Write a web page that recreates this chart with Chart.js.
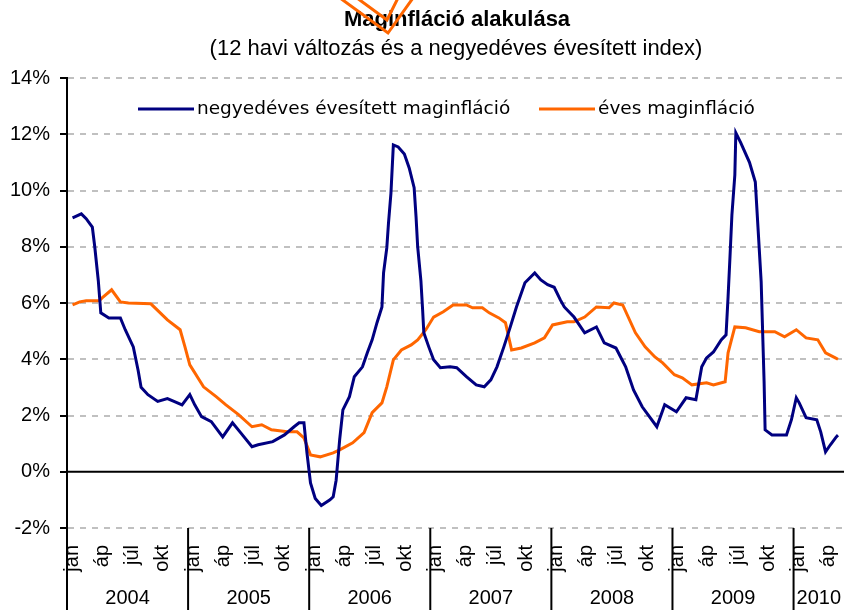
<!DOCTYPE html>
<html>
<head>
<meta charset="utf-8">
<script src="https://cdn.jsdelivr.net/npm/chart.js@4"></script>
<style>
  html, body { margin: 0; padding: 0; overflow: hidden; background: #fff; }
</style>
</head>
<body>
<canvas id="coreChart" width="870" height="610"></canvas>
<script>
// tick labels
const monthLabels = ['jan', 'áp', 'júl', 'okt'];
const yearLabels = ['2004', '2005', '2006', '2007', '2008', '2009', '2010'];
const totalMonths = 77; // jan 2004 .. may 2010

// negyedéves évesített maginfláció (x = months since jan 2004, y = %)
const quarterlyX = [0.55, 1.42, 1.9, 2.51, 2.75, 3.1, 3.35, 4.15, 5.29, 5.77, 6.57, 7.05, 7.34, 8.02, 8.99,
  9.95, 10.6, 11.4, 12.17, 12.66, 13.33, 14.3, 15.43, 16.4, 17.2, 18.33, 18.94, 20.39, 21.55, 22.5,
  23.0, 23.48, 23.77, 24.13, 24.6, 25.2, 26.06, 26.38, 26.67, 27.02, 27.34, 27.99, 28.47, 29.28, 29.76,
  30.24, 30.72, 31.21, 31.37, 31.69, 31.86, 32.1, 32.34, 32.82, 33.43, 33.91, 34.4, 34.59, 34.75, 35.07,
  35.24, 35.36, 35.85, 36.33, 37.0, 37.97, 38.62, 39.58, 40.55, 41.35, 42.0, 42.61, 43.29, 43.93, 44.54,
  45.38, 46.35, 46.96, 47.63, 48.28, 48.89, 49.28, 50.24, 51.3, 52.46, 53.24, 54.4, 55.36, 56.14, 57.0,
  58.45, 59.23, 60.39, 61.35, 62.32, 62.9, 63.38, 64.06, 64.83, 65.31, 65.51, 65.7, 65.89, 66.18, 66.28,
  66.76, 67.63, 68.21, 68.5, 68.79, 69.08, 69.18, 69.86, 71.3, 71.79, 72.27, 72.56, 73.24, 74.3, 74.69,
  75.17, 75.65, 76.23, 76.4];
const quarterlyY = [9.03, 9.17, 9.0, 8.7, 8.0, 6.8, 5.65, 5.47, 5.47, 5.05, 4.44, 3.6, 3.0, 2.74, 2.5,
  2.6, 2.5, 2.38, 2.74, 2.38, 1.96, 1.78, 1.24, 1.74, 1.39, 0.89, 0.96, 1.07, 1.31, 1.6,
  1.74, 1.74, 0.7, -0.4, -0.95, -1.2, -1.0, -0.89, -0.3, 1.14, 2.2, 2.67, 3.38, 3.73, 4.23,
  4.69, 5.3, 5.86, 7.07, 7.96, 8.85, 9.9, 11.62, 11.55, 11.3, 10.8, 10.1, 9.06, 8.0, 6.8,
  5.76, 4.94, 4.44, 3.98, 3.7, 3.73, 3.7, 3.38, 3.09, 3.02, 3.27, 3.73, 4.44, 5.15, 5.86,
  6.72, 7.07, 6.82, 6.65, 6.56, 6.11, 5.86, 5.5, 4.94, 5.15, 4.58, 4.4, 3.73, 2.91, 2.31,
  1.6, 2.38, 2.13, 2.63, 2.56, 3.73, 4.05, 4.26, 4.69, 4.87, 6.22, 7.64, 9.13, 10.55, 12.05,
  11.7, 11.0, 10.3, 8.53, 6.75, 3.2, 1.49, 1.31, 1.31, 1.85, 2.63, 2.45, 1.92, 1.85, 1.42,
  0.71, 0.96, 1.24, 1.3];

// éves maginfláció
const annualX = [0.55, 1.26, 1.9, 3.19, 3.48, 4.42, 5.29, 6.09, 8.31, 9.95, 11.21, 11.69, 12.17, 13.53, 14.78,
  15.75, 17.0, 18.33, 19.3, 20.26, 21.84, 22.8, 23.48, 24.13, 25.09, 26.38, 27.02, 28.31, 29.44, 30.24,
  31.21, 31.69, 32.34, 33.14, 34.11, 34.75, 35.56, 36.33, 37.29, 38.26, 39.58, 40.19, 41.16, 41.84, 42.8,
  43.45, 44.06, 45.02, 46.35, 47.31, 48.12, 49.57, 50.24, 51.3, 52.46, 53.72, 54.2, 55.07, 56.33, 57.29,
  58.26, 59.03, 60.19, 60.97, 61.93, 63.38, 64.06, 65.22, 65.51, 66.18, 67.25, 68.6, 70.14, 71.11, 72.27,
  73.24, 74.4, 75.17, 76.14, 76.4];
const annualY = [5.93, 6.04, 6.08, 6.08, 6.18, 6.47, 6.04, 6.0, 5.97, 5.4, 5.05, 4.44, 3.8, 3.02, 2.67,
  2.38, 2.03, 1.6, 1.67, 1.49, 1.42, 1.42, 1.2, 0.6, 0.53, 0.67, 0.78, 1.03, 1.39, 2.1,
  2.45, 3.02, 3.98, 4.33, 4.51, 4.69, 5.05, 5.5, 5.69, 5.93, 5.93, 5.83, 5.83, 5.65, 5.47,
  5.3, 4.33, 4.4, 4.58, 4.76, 5.22, 5.33, 5.33, 5.5, 5.86, 5.83, 6.0, 5.93, 4.94, 4.44,
  4.08, 3.87, 3.45, 3.34, 3.09, 3.16, 3.09, 3.2, 4.23, 5.15, 5.12, 4.98, 4.98, 4.8, 5.05,
  4.76, 4.69, 4.23, 4.05, 4.0];

const seriesNames = ['negyedéves évesített maginfláció', 'éves maginfláció'];
const blue = '#000080';
const orange = '#ff6600';
const axisFont = { family: 'Liberation Sans, Arial, sans-serif', size: 20 };

// title, legend, year row and the zero line are drawn by hand
const decorations = {
  id: 'decorations',
  beforeDatasetsDraw(chart) {
    const { ctx, chartArea, scales } = chart;
    const y0 = scales.y.getPixelForValue(0);
    ctx.save();
    ctx.strokeStyle = '#000';
    ctx.lineWidth = 2;
    ctx.beginPath();
    ctx.moveTo(chartArea.left, y0);
    ctx.lineTo(chartArea.right, y0);
    ctx.stroke();
    ctx.restore();
  },
  afterDraw(chart) {
    const { ctx, chartArea, scales } = chart;
    const xs = scales.x;
    ctx.save();

    // year separators + year labels
    ctx.strokeStyle = '#000';
    ctx.lineWidth = 2;
    ctx.fillStyle = '#000';
    ctx.font = '20px "Liberation Sans", Arial, sans-serif';
    ctx.textAlign = 'center';
    ctx.textBaseline = 'middle';
    yearLabels.forEach((yr, k) => {
      const a = xs.getPixelForValue(12 * k);
      const b = xs.getPixelForValue(Math.min(12 * (k + 1), totalMonths));
      ctx.beginPath();
      ctx.moveTo(a, chartArea.bottom);
      ctx.lineTo(a, chart.height);
      ctx.stroke();
      ctx.fillText(yr, (a + b) / 2, 598);
    });

    // title
    ctx.font = 'bold 22px "Liberation Sans", Arial, sans-serif';
    ctx.fillText('Maginfláció alakulása', 457, 20);
    ctx.font = '22px "Liberation Sans", Arial, sans-serif';
    ctx.fillText('(12 havi változás és a negyedéves évesített index)', 456, 49);

    // legend
    ctx.textAlign = 'left';
    ctx.font = '18.5px "DejaVu Sans", sans-serif';
    ctx.lineWidth = 3;
    ctx.strokeStyle = blue;
    ctx.beginPath(); ctx.moveTo(138, 109); ctx.lineTo(194, 109); ctx.stroke();
    ctx.fillText(seriesNames[0], 197, 109);
    ctx.strokeStyle = orange;
    ctx.beginPath(); ctx.moveTo(539, 109); ctx.lineTo(595, 109); ctx.stroke();
    ctx.fillText(seriesNames[1], 598, 109);

    // orange chevron over the title
    ctx.strokeStyle = orange;
    ctx.lineWidth = 3;
    ctx.beginPath(); ctx.moveTo(340, -2); ctx.lineTo(388, 33); ctx.lineTo(413, -2); ctx.stroke();
    ctx.beginPath(); ctx.moveTo(357, -2); ctx.lineTo(387, 20); ctx.lineTo(398, -2); ctx.stroke();

    ctx.restore();
  }
};

const ctx = document.getElementById('coreChart').getContext('2d');
const coreChart = new Chart(ctx, {
  type: 'line',
  data: {
    datasets: [
      {
        label: seriesNames[0],
        data: quarterlyX.map((x, i) => ({ x: x, y: quarterlyY[i] })),
        borderColor: blue,
        borderWidth: 3,
        pointRadius: 0,
        tension: 0
      },
      {
        label: seriesNames[1],
        data: annualX.map((x, i) => ({ x: x, y: annualY[i] })),
        borderColor: orange,
        borderWidth: 3,
        pointRadius: 0,
        tension: 0
      }
    ]
  },
  options: {
    responsive: false,
    animation: false,
    layout: { padding: { top: 78, right: 6, left: 0, bottom: 0 } },
    plugins: {
      legend: { display: false },
      tooltip: { enabled: false },
      title: { display: false }
    },
    scales: {
      x: {
        type: 'linear',
        min: 0,
        max: totalMonths,
        afterBuildTicks: scale => {
          const t = [];
          for (let m = 0; m < totalMonths; m += 3) t.push({ value: m + 0.5 });
          scale.ticks = t;
        },
        afterFit: scale => { scale.height = 82; },
        grid: { display: false, drawTicks: false },
        border: { display: false },
        ticks: {
          autoSkip: false,
          minRotation: 90,
          maxRotation: 90,
          padding: 17,
          color: '#000',
          font: axisFont,
          callback: v => monthLabels[(Math.floor(v) % 12) / 3]
        }
      },
      y: {
        min: -2,
        max: 14,
        afterFit: scale => { scale.width = 67; },
        ticks: {
          stepSize: 2,
          padding: 10,
          color: '#000',
          font: axisFont,
          callback: v => v + '%'
        },
        grid: {
          color: c => (c.tick && c.tick.value === 0) ? 'rgba(0,0,0,0)' : '#c0c0c0',
          lineWidth: 2,
          tickColor: '#000',
          tickLength: 7,
          tickWidth: 2
        },
        border: { color: '#000', width: 2, dash: [6, 6] }
      }
    }
  },
  plugins: [decorations]
});
</script>
</body>
</html>
